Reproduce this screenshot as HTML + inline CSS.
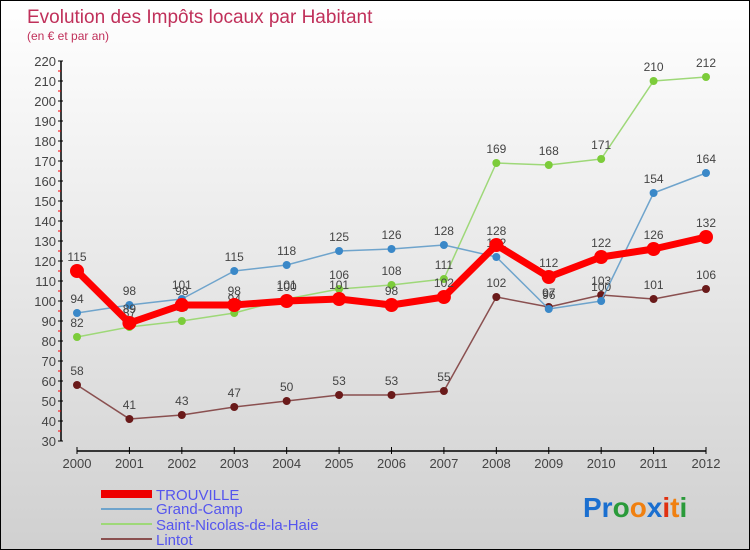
<!DOCTYPE html>
<html><head><meta charset="utf-8"><style>
body{margin:0}
#wrap{position:relative;width:748px;height:548px;border:1px solid #000;background:linear-gradient(#ffffff,#d0d0d0);font-family:"Liberation Sans",sans-serif;overflow:hidden}
svg text{font-family:"Liberation Sans",sans-serif}
</style></head><body>
<div id="wrap">
<svg id="chart" width="748" height="548">
<text x="26" y="22" font-size="19" fill="#c0305a">Evolution des Impôts locaux par Habitant</text>
<text x="26" y="39" font-size="12" fill="#c0305a">(en € et par an)</text>
<g id="axes"></g><g id="series"></g>
<g>
<rect x="100" y="489" width="51" height="8" fill="#e00"/>
<text x="155" y="499" font-size="15" fill="#5555ee">TROUVILLE</text>
<rect x="100" y="507" width="51" height="2" fill="#6fa4cc"/>
<text x="155" y="513" font-size="15" fill="#5555ee">Grand-Camp</text>
<rect x="100" y="522" width="51" height="2" fill="#9ed878"/>
<text x="155" y="529" font-size="15" fill="#5555ee">Saint-Nicolas-de-la-Haie</text>
<rect x="100" y="537" width="51" height="2" fill="#8a5050"/>
<text x="155" y="544" font-size="15" fill="#5555ee">Lintot</text>
</g>
<g font-size="28" font-weight="bold">
<text x="582" y="516"><tspan fill="#1a6fd0">Pr</tspan><tspan fill="#2a9a3a">o</tspan><tspan fill="#f08010">o</tspan><tspan fill="#1a6fd0">x</tspan><tspan fill="#e03010">i</tspan><tspan fill="#f08010">t</tspan><tspan fill="#2a9a3a">i</tspan></text>
</g>
</svg>
</div>
<script>
const years=["2000","2001","2002","2003","2004","2005","2006","2007","2008","2009","2010","2011","2012"];
const trouville=[115,89,98,98,100,101,98,102,128,112,122,126,132];
const grandCamp=[94,98,101,115,118,125,126,128,122,96,100,154,164];
const saintNicolas=[82,87,90,94,101,106,108,111,169,168,171,210,212];
const lintot=[58,41,43,47,50,53,53,55,102,97,103,101,106];
const yTicks=[30,40,50,60,70,80,90,100,110,120,130,140,150,160,170,180,190,200,210,220];
const NS="http://www.w3.org/2000/svg";
function x(i){return 76+i*(705-76)/(years.length-1);}
function y(v){return 440-(v-30)*2;}
function mk(tag,attrs,parent){const e=document.createElementNS(NS,tag);for(const k in attrs)e.setAttribute(k,attrs[k]);parent.appendChild(e);return e;}
const ax=document.getElementById('axes');
let l=mk('line',{x1:60,y1:y(220),x2:60,y2:y(30),stroke:'#000','stroke-width':1.5},ax);


yTicks.forEach(v=>{
 const t=mk('line',{x1:57,y1:y(v),x2:62,y2:y(v),stroke:'#000'},ax);
 
 
 if(v<220){const m=mk('line',{x1:57,y1:y(v+5),x2:60,y2:y(v+5),stroke:'#f00'},ax);
 
 }
 const tx=mk('text',{x:55,y:y(v)+5,'font-size':13,fill:'#444','text-anchor':'end'},ax);
 tx.textContent=v;
 
 
});
l=mk('line',{x1:76,y1:450,x2:705,y2:450,stroke:'#000','stroke-width':1.5},ax);


years.forEach((yr,i)=>{
 const t=mk('line',{x1:x(i),y1:446,x2:x(i),y2:453,stroke:'#000'},ax);
 
 
 const tx=mk('text',{x:x(i),y:467,'font-size':13,fill:'#444','text-anchor':'middle'},ax);
 tx.textContent=yr;
 
 
});
const sg=document.getElementById('series');
function draw(name,vals,color,w,r,pc){
 const g=mk('g',{},sg);
 
 
 const p=mk('polyline',{points:vals.map((v,i)=>x(i)+','+y(v)).join(' '),fill:'none',stroke:color,'stroke-width':w,'stroke-linejoin':'round'},g);
 
 
 vals.forEach((v,i)=>{
  const c=mk('circle',{cx:x(i),cy:y(v),r:r,fill:pc},g);
  
  
  const t=mk('text',{x:x(i),y:y(v)-10,'font-size':12,fill:'#444','text-anchor':'middle'},g);
  t.textContent=v;
  
  
 });
}
draw('lintot',lintot,'#8a5050',1.5,4,'#6a1a1a');
draw('saint-nicolas',saintNicolas,'#9ed878',1.5,4,'#7ccc3a');
draw('grand-camp',grandCamp,'#6fa4cc',1.5,4,'#3a88c8');
draw('trouville',trouville,'#f00',7,7,'#f00');
</script>
</body></html>
